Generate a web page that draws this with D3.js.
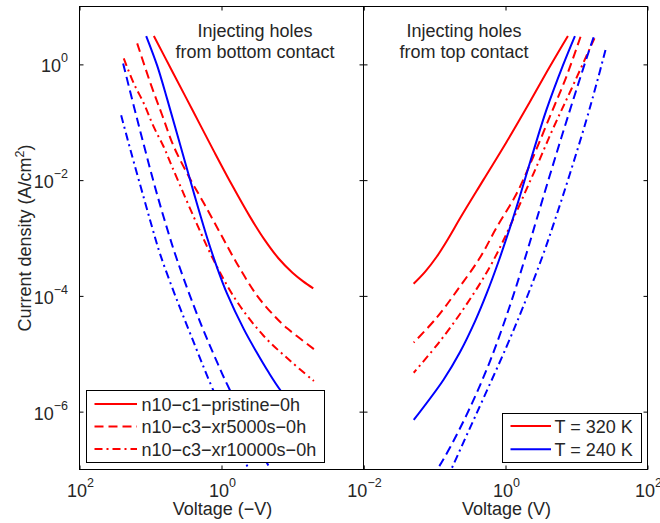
<!DOCTYPE html>
<html>
<head>
<meta charset="utf-8">
<script src="https://cdn.jsdelivr.net/npm/d3@7"></script>
<style>
  html, body { margin: 0; padding: 0; background: #fff; }
  svg { display: block; font-family: "Liberation Sans", Arial, Helvetica, sans-serif; }
  text { fill: #262626; }
</style>
</head>
<body>
<div id="chart"></div>
<script>
// Current density (A/cm^2) vs voltage, pairs of [V, J].
// Left panel: holes injected from bottom contact (plotted against -V)
const bottomPristine320 = [[8.97,3.09],[5.01,0.785],[2.51,0.155],[1.26,0.0305],[0.708,0.00813],[0.398,0.00234],[0.251,9.55e-4],[0.158,4.47e-4],[0.1,2.51e-4],[0.0708,1.78e-4],[0.051,1.35e-4]];
const bottomXr5000_320 = [[15.4,2.31],[10.0,0.469],[6.84,0.132],[4.70,0.038],[2.85,0.0112],[1.77,0.00398],[1.03,0.00118],[0.601,3.56e-4],[0.314,1.0e-4],[0.173,4.27e-5],[0.119,2.75e-5],[0.0859,2.0e-5],[0.050,1.20e-5]];
const bottomXr10000_320 = [[23.8,1.27],[17.2,0.469],[12.4,0.211],[9.0,0.0830],[6.5,0.0373],[4.94,0.0168],[2.45,0.00229],[1.28,4.06e-4],[0.615,8.2e-5],[0.254,2.03e-5],[0.107,7.5e-6],[0.050,3.38e-6]];
const bottomPristine240 = [[11.5,3.09],[8.05,0.951],[5.82,0.251],[3.99,0.0495],[2.45,0.00598],[1.59,0.00100],[1.15,3.05e-4],[0.832,1.08e-4],[0.485,2.66e-5],[0.314,1.02e-5],[0.216,4.73e-6],[0.148,2.34e-6],[0.05,4.2e-7]];
const bottomXr5000_240 = [[24.3,1.04],[17.2,0.191],[12.4,0.0403],[9.0,0.00914],[6.5,0.00226],[4.17,4.0e-4],[1.98,3.41e-5],[1.15,7.1e-6],[0.832,2.95e-6],[0.198,9.3e-8],[0.05,4.6e-9]];
const bottomXr10000_240 = [[25.9,0.132],[21.3,0.0537],[17.2,0.0205],[12.4,0.0049],[9.46,0.00151],[7.22,5.0e-4],[4.47,1.0e-4],[2.74,2.19e-5],[1.35,2.57e-6],[0.412,1.0e-7],[0.05,5e-10]];

// Right panel: holes injected from top contact
const topPristine320 = [[7.57,3.09],[4.20,0.908],[2.20,0.224],[1.035,0.0457],[0.486,0.0100],[0.229,0.00219],[0.158,0.001],[0.108,4.79e-4],[0.0741,2.63e-4],[0.0508,1.62e-4]];
const topXr5000_320 = [[11.4,3.0],[7.19,0.61],[4.20,0.124],[2.45,0.0251],[1.43,0.00581],[0.752,0.00153],[0.438,4.6e-4],[0.206,1.22e-4],[0.108,4.23e-5],[0.051,1.56e-5]];
const topXr10000_320 = [[17.9,2.83],[8.45,0.372],[4.67,0.0776],[2.45,0.0126],[0.673,4.07e-4],[0.284,7.2e-5],[0.120,1.66e-5],[0.051,4.7e-6]];
const topPristine240 = [[9.5,3.09],[6.44,0.962],[3.78,0.165],[2.45,0.0305],[1.59,0.00521],[1.15,0.00148],[0.791,3.81e-4],[0.543,1.10e-4],[0.372,3.62e-5],[0.229,1.07e-5],[0.134,3.56e-6],[0.051,7.2e-7]];
const topXr5000_240 = [[17.4,2.94],[15.3,1.85],[9.93,0.359],[6.44,0.0664],[4.20,0.0120],[2.73,0.00205],[1.98,5.46e-4],[1.15,6.67e-5],[0.604,7.4e-6],[0.317,1.18e-6],[0.166,2.42e-7],[0.102,8.7e-8],[0.051,2.3e-8]];
const topXr10000_240 = [[25.6,1.77],[19.0,0.447],[13.7,0.107],[8.0,0.0124],[5.21,0.00244],[3.38,5.13e-4],[1.77,6.47e-5],[1.035,1.33e-5],[0.486,1.67e-6],[0.284,3.92e-7],[0.166,9.1e-8],[0.051,4.2e-9]];

const sampleLabels = ["n10\u2212c1\u2212pristine\u22120h", "n10\u2212c3\u2212xr5000s\u22120h", "n10\u2212c3\u2212xr10000s\u22120h"];
const tempLabels = ["T = 320 K", "T = 240 K"];
const xTicks = [1e-2, 1, 1e2];
const yTicks = [1e-6, 1e-4, 1e-2, 1];

const W = 660, H = 523;
const L = 79.5, M = 363.5, R = 647.5, T = 6.5, B = 469.5;
const colors = { "320": "#ff0000", "240": "#0000ff" };
const dashes = ["none", "9,5", "8,4,2,4"];

const svg = d3.select("#chart").append("svg")
  .attr("width", W).attr("height", H);

const y = d3.scaleLog().domain([1e-7, 10]).range([B, T]);
const xLeft = d3.scaleLog().domain([100, 0.01]).range([L, M]);
const xRight = d3.scaleLog().domain([0.01, 100]).range([M, R]);

const panels = [
  { id: "bottom", x: xLeft, x0: L, x1: M, title: ["Injecting holes", "from bottom contact"], xlabel: "Voltage (\u2212V)",
    series: [
      { data: bottomPristine320, t: "320", s: 0 }, { data: bottomXr5000_320, t: "320", s: 1 }, { data: bottomXr10000_320, t: "320", s: 2 },
      { data: bottomPristine240, t: "240", s: 0 }, { data: bottomXr5000_240, t: "240", s: 1 }, { data: bottomXr10000_240, t: "240", s: 2 }
    ] },
  { id: "top", x: xRight, x0: M, x1: R, title: ["Injecting holes", "from top contact"], xlabel: "Voltage (V)",
    series: [
      { data: topPristine320, t: "320", s: 0 }, { data: topXr5000_320, t: "320", s: 1 }, { data: topXr10000_320, t: "320", s: 2 },
      { data: topPristine240, t: "240", s: 0 }, { data: topXr5000_240, t: "240", s: 1 }, { data: topXr10000_240, t: "240", s: 2 }
    ] }
];

function powLabel(sel, v) {
  const e = Math.round(Math.log10(v));
  sel.append("tspan").text("10");
  sel.append("tspan").attr("dy", -10).attr("font-size", 12.5)
    .text(e < 0 ? "\u2212" + (-e) : String(e));
}

panels.forEach((p, i) => {
  const g = svg.append("g");

  g.append("clipPath").attr("id", "clip-" + p.id)
    .append("rect").attr("x", p.x0).attr("y", T).attr("width", p.x1 - p.x0).attr("height", B - T);

  const line = d3.line()
    .x(d => p.x(d[0]))
    .y(d => y(d[1]))
    .curve(d3.curveCatmullRom.alpha(0.5));

  g.append("g").attr("clip-path", `url(#clip-${p.id})`)
    .selectAll("path")
    .data(p.series)
    .join("path")
    .attr("d", d => line(d.data))
    .attr("fill", "none")
    .attr("stroke", d => colors[d.t])
    .attr("stroke-width", 2)
    .attr("stroke-dasharray", d => dashes[d.s]);

  // ticks pointing inward on all four sides
  const axes = [
    [d3.axisLeft(y).tickValues(yTicks), `translate(${p.x0},0)`],
    [d3.axisRight(y).tickValues(yTicks), `translate(${p.x1},0)`],
    [d3.axisBottom(p.x).tickValues(xTicks), `translate(0,${B})`],
    [d3.axisTop(p.x).tickValues(xTicks), `translate(0,${T})`]
  ];
  axes.forEach(([ax, tr]) => {
    const a = g.append("g").attr("transform", tr)
      .call(ax.tickSize(-4).tickSizeOuter(0).tickFormat(""));
    a.select(".domain").remove();
    a.selectAll(".tick line").attr("stroke", "#000");
  });

  g.append("rect")
    .attr("x", p.x0).attr("y", T).attr("width", p.x1 - p.x0).attr("height", B - T)
    .attr("fill", "none").attr("stroke", "#000").attr("stroke-width", 1);

  // x tick labels (the shared 10^-2 is drawn once)
  g.selectAll("text.xt")
    .data(i === 0 ? xTicks : xTicks.filter(v => v > 0.01))
    .join("text")
    .attr("class", "xt")
    .attr("x", d => p.x(d) + 1)
    .attr("y", 496.5)
    .attr("text-anchor", "middle")
    .attr("font-size", 18)
    .each(function (d) { powLabel(d3.select(this), d); });

  g.append("text")
    .attr("x", (p.x0 + p.x1) / 2 + 1)
    .attr("y", 515)
    .attr("text-anchor", "middle")
    .attr("font-size", 18)
    .text(p.xlabel);

  g.selectAll("text.title")
    .data(p.title)
    .join("text")
    .attr("class", "title")
    .attr("x", p.id === "bottom" ? 255 : 464)
    .attr("y", (d, k) => 36.5 + k * 21.8)
    .attr("text-anchor", "middle")
    .attr("font-size", 18)
    .text(d => d);
});

// y tick labels and label
svg.selectAll("text.yt")
  .data(yTicks)
  .join("text")
  .attr("class", "yt")
  .attr("x", 68)
  .attr("y", d => y(d) + 8)
  .attr("text-anchor", "end")
  .attr("font-size", 18)
  .each(function (d) { powLabel(d3.select(this), d); });

const yl = svg.append("text")
  .attr("transform", `translate(31,${(T + B) / 2}) rotate(-90)`)
  .attr("text-anchor", "middle")
  .attr("font-size", 18);
yl.append("tspan").text("Current density (A/cm");
yl.append("tspan").attr("dy", -7).attr("font-size", 12.5).text("2");
yl.append("tspan").attr("dy", 7).text(")");

// legend, left panel: samples
const leg1 = svg.append("g");
leg1.append("rect")
  .attr("x", 86.5).attr("y", 390.5).attr("width", 238).attr("height", 72)
  .attr("fill", "#fff").attr("stroke", "#000");
const rows1 = leg1.selectAll("g.row")
  .data(sampleLabels)
  .join("g")
  .attr("class", "row")
  .attr("transform", (d, k) => `translate(0,${404 + k * 22.5})`);
rows1.append("line")
  .attr("x1", 94.5).attr("x2", 137)
  .attr("stroke", colors["320"]).attr("stroke-width", 2)
  .attr("stroke-dasharray", (d, k) => dashes[k]);
rows1.append("text")
  .attr("x", 141.5).attr("y", 6.5)
  .attr("font-size", 18)
  .text(d => d);

// legend, right panel: temperatures
const leg2 = svg.append("g");
leg2.append("rect")
  .attr("x", 502.5).attr("y", 413.5).attr("width", 139).attr("height", 49)
  .attr("fill", "#fff").attr("stroke", "#000");
const rows2 = leg2.selectAll("g.row")
  .data(tempLabels)
  .join("g")
  .attr("class", "row")
  .attr("transform", (d, k) => `translate(0,${426 + k * 23.3})`);
rows2.append("line")
  .attr("x1", 510.5).attr("x2", 551)
  .attr("stroke", (d, k) => k === 0 ? colors["320"] : colors["240"])
  .attr("stroke-width", 2);
rows2.append("text")
  .attr("x", 554.5).attr("y", 6.5)
  .attr("font-size", 18)
  .text(d => d);
</script>
</body>
</html>
